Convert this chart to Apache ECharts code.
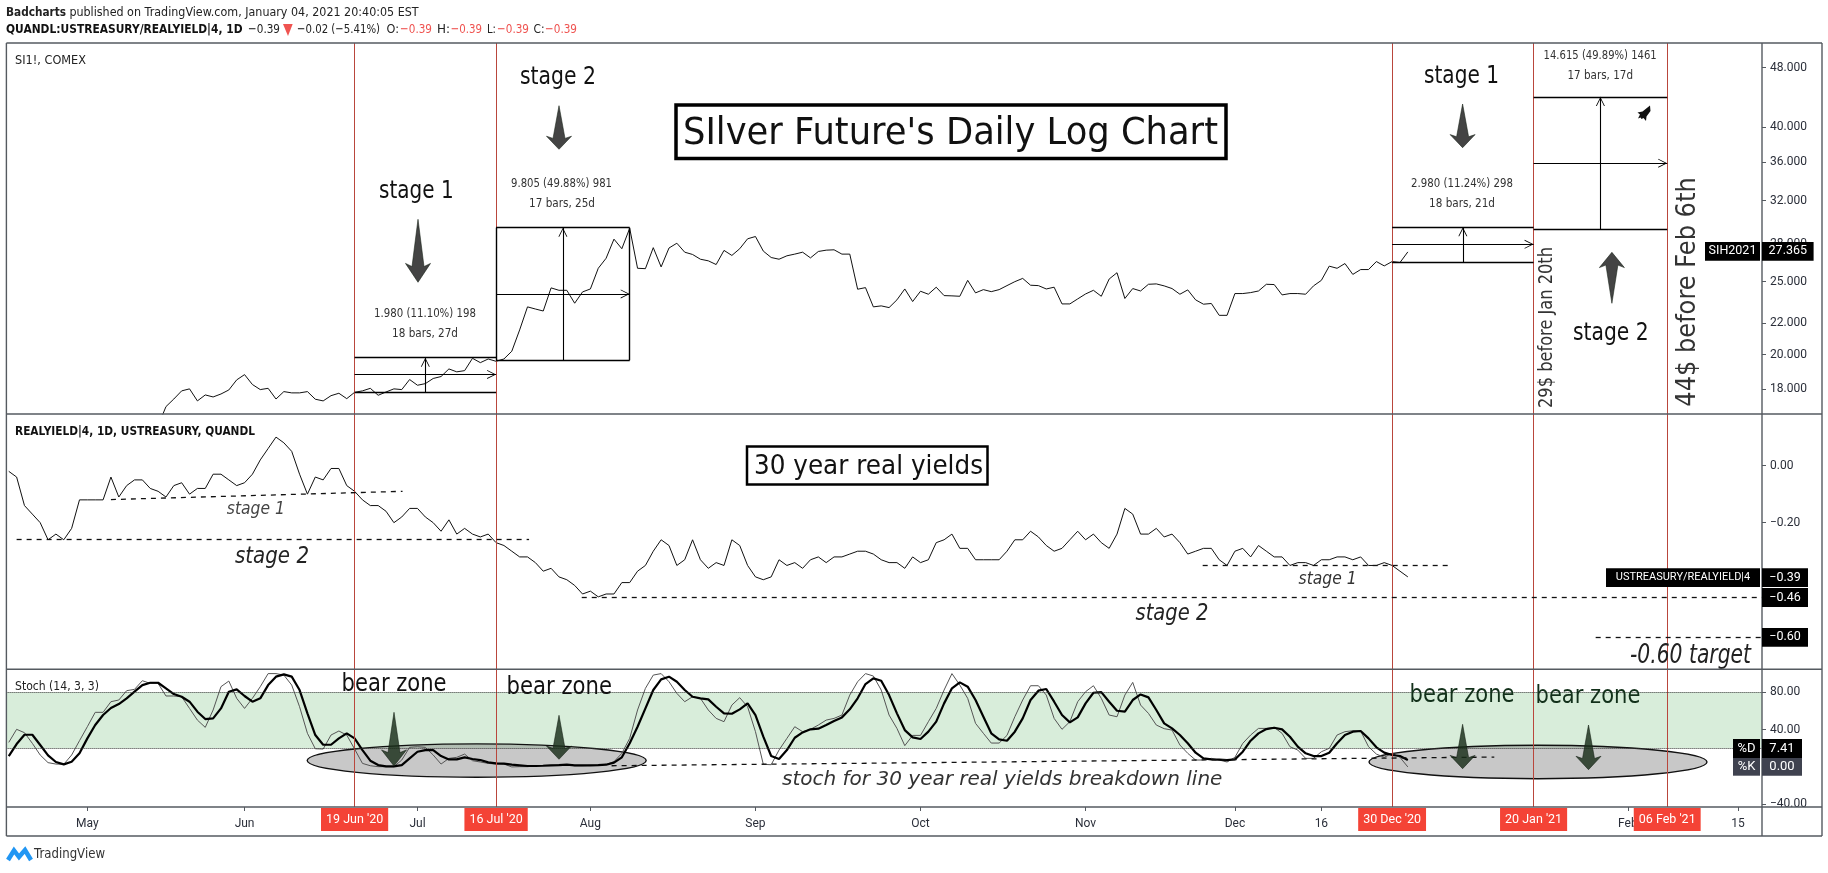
<!DOCTYPE html>
<html><head><meta charset="utf-8">
<style>html,body{margin:0;padding:0;background:#fff}#c{width:1828px;height:873px}</style>
<script src="https://cdn.jsdelivr.net/npm/echarts@6/dist/echarts.min.js"></script>
</head><body><div id="c"></div>
<script>
const priceStart = 19;
const prices = [16.1,17.07,17.47,17.91,18.02,17.37,17.69,17.58,17.74,17.96,18.52,18.82,18.26,17.98,18.05,17.47,17.87,17.80,17.80,17.87,17.46,17.37,17.65,17.78,17.49,17.83,17.91,18.05,17.67,17.85,18.02,17.98,18.54,18.22,18.31,18.60,18.71,19.15,18.98,19.05,19.78,19.52,19.74,19.60,19.74,20.21,21.57,23.14,22.99,22.85,24.52,24.34,24.34,23.40,24.22,24.44,26.03,26.84,28.45,27.63,29.41,26.03,26.00,27.72,26.14,27.69,28.10,27.34,27.15,26.76,26.63,26.33,27.49,27.07,27.63,28.48,28.68,27.43,26.90,26.76,27.04,27.18,27.34,26.87,27.40,27.51,27.54,27.18,27.18,24.42,24.54,23.14,23.21,23.09,23.64,24.44,23.52,24.27,24.05,24.57,23.95,23.93,23.90,25.09,24.15,24.39,24.24,24.39,24.69,24.99,25.24,24.72,24.69,24.44,24.57,23.35,23.35,23.71,24.07,24.34,23.90,25.19,25.68,23.74,24.47,24.29,24.79,24.82,24.67,24.47,24.05,24.37,23.64,23.33,23.38,22.55,22.55,24.10,24.10,24.17,24.29,24.79,24.77,24.00,24.10,24.10,24.05,24.67,25.09,26.20,26.03,26.41,25.55,25.93,25.93,26.57,26.22,26.57,26.49,27.365];
const yields = [-0.02,-0.04,-0.14,-0.17,-0.20,-0.26,-0.24,-0.26,-0.22,-0.12,-0.12,-0.12,-0.12,-0.04,-0.11,-0.07,-0.05,-0.05,-0.08,-0.09,-0.11,-0.07,-0.06,-0.10,-0.08,-0.08,-0.03,-0.03,-0.05,-0.07,-0.06,-0.03,0.02,0.06,0.10,0.08,0.05,-0.03,-0.10,-0.04,-0.05,-0.01,-0.01,-0.07,-0.09,-0.12,-0.14,-0.14,-0.16,-0.20,-0.18,-0.15,-0.15,-0.18,-0.20,-0.23,-0.19,-0.24,-0.22,-0.24,-0.25,-0.24,-0.27,-0.28,-0.30,-0.32,-0.32,-0.34,-0.37,-0.36,-0.39,-0.40,-0.42,-0.45,-0.44,-0.46,-0.45,-0.45,-0.41,-0.41,-0.37,-0.35,-0.30,-0.26,-0.28,-0.35,-0.33,-0.26,-0.33,-0.36,-0.34,-0.35,-0.26,-0.28,-0.35,-0.39,-0.40,-0.39,-0.33,-0.35,-0.34,-0.36,-0.33,-0.32,-0.34,-0.32,-0.32,-0.31,-0.30,-0.30,-0.31,-0.33,-0.34,-0.34,-0.36,-0.32,-0.34,-0.33,-0.27,-0.26,-0.24,-0.29,-0.29,-0.33,-0.33,-0.33,-0.33,-0.30,-0.26,-0.26,-0.23,-0.25,-0.28,-0.30,-0.29,-0.26,-0.23,-0.26,-0.24,-0.27,-0.29,-0.24,-0.15,-0.17,-0.24,-0.24,-0.22,-0.25,-0.24,-0.27,-0.31,-0.30,-0.29,-0.29,-0.33,-0.35,-0.30,-0.29,-0.32,-0.28,-0.30,-0.32,-0.32,-0.35,-0.34,-0.34,-0.35,-0.33,-0.33,-0.32,-0.32,-0.33,-0.32,-0.35,-0.35,-0.34,-0.35,-0.37,-0.39];
const stochD = [11.7,24.5,34.5,34.5,23.5,12.4,5.3,2.8,5.6,14.6,30.6,44.9,55.6,63.1,67.4,73.5,80.6,87.7,90.2,90.2,84.2,78.1,75.2,69.9,59.2,51.3,52.0,62.7,80.6,83.1,76.0,69.9,73.5,87.7,96.7,99.2,96.7,82.4,57.4,34.2,23.8,23.8,30.6,36.0,30.6,18.1,6.7,2.0,0.6,0.6,2.0,9.2,16.3,18.1,18.1,11.7,8.1,8.1,10.3,8.5,7.4,4.9,3.8,3.5,2.4,1.7,1.0,1.0,1.3,1.7,2.0,2.4,1.7,1.7,1.7,2.0,2.4,4.6,10.3,25.3,43.1,62.7,82.4,93.8,96.7,91.3,82.4,75.2,73.5,72.4,64.5,57.4,57.0,61.7,68.1,55.6,32.4,11.7,8.5,18.1,31.3,37.0,40.3,41.0,44.9,49.2,53.1,61.7,73.5,88.8,94.9,92.4,77.0,57.4,39.5,31.7,29.9,37.8,48.5,68.1,84.2,90.6,86.0,71.7,53.8,36.0,29.5,28.1,37.8,52.0,71.7,81.7,83.5,69.9,55.6,47.8,53.1,68.1,79.5,80.2,69.9,60.2,59.2,71.7,77.7,74.5,61.0,46.7,41.3,34.2,25.3,15.3,9.2,8.1,7.8,7.4,8.1,16.3,28.1,36.0,40.6,42.0,40.3,32.4,21.7,14.6,11.7,11.7,15.3,25.3,34.2,37.8,38.5,30.6,21.0,15.3,12.8,11.7,7.41];
const stochK = [26.3,40.3,36.7,25.3,12.8,4.6,3.1,2.8,12.8,28.1,43.1,58.5,58.5,69.9,71.7,81.7,83.1,92.4,89.5,89.5,76.0,76.0,75.2,62.7,50.2,42.4,61.0,86.0,92.0,73.5,62.7,73.5,86.0,100,100,98.4,87.7,64.5,36.0,19.5,19.2,34.2,38.5,34.2,19.2,3.8,1.3,0.3,0.3,0.3,7.4,21.0,21.7,21.0,12.8,3.1,9.2,10.3,13.8,6.7,5.3,3.8,3.1,3.1,0,0.3,0.3,1.0,1.7,1.7,2.4,2.4,1.3,1.3,1.7,2.0,2.8,5.6,14.6,30.6,61.0,84.2,98.4,100,91.3,78.8,69.9,75.2,73.5,61.0,52.0,48.5,66.3,74.2,64.5,37.8,2.8,2.4,18.1,30.6,43.1,37.8,40.3,44.9,50.2,52.0,55.6,77.0,91.3,100,97.4,82.4,55.6,41.3,22.8,33.8,33.8,48.5,62.7,82.4,100,87.7,73.5,46.7,36.0,25.6,25.6,33.8,53.8,71.7,87.0,87.0,77.0,52.0,40.3,48.5,69.9,80.6,87.0,73.5,55.6,53.8,77.0,90.6,66.3,57.4,44.9,41.0,39.5,23.5,14.6,7.4,7.4,9.2,7.4,5.3,10.3,25.3,34.2,41.3,41.3,42.4,36.0,21.7,18.1,9.2,9.2,16.3,19.9,34.2,37.8,38.8,38.5,21.7,13.8,10.3,14.6,10.3,0];
const monthTicks = {10:'May',30:'Jun',52:'Jul',74:'Aug',95:'Sep',116:'Oct',137:'Nov',156:'Dec',167:'16',206:'Feb',220:'15'};
const dateTags = {44:"19 Jun '20",62:"16 Jul '20",176:"30 Dec '20",194:"20 Jan '21",211:"06 Feb '21"};
const priceTicks = [48,40,36,32,28,25,22,20,18];
const yieldTicks = [0,-0.2,-0.4,-0.6];
const stochTicks = [80,40,0,-40];

const AX = '#555a60', TXT = '#2a2e39', RED = '#b9463c', F = 'DejaVu Sans';
const L = 6.4, W = 1755.6, xMin = -0.3, xMax = 223.06, RIGHT = 1828 - L - W;
const solid = {color:'#000', width:1.4, type:'solid'};
const dash  = {color:'#111', width:1.3, type:[5,5]};
const chev = 'path://M5,0 L5.01,0 Z M0,20 L5,10 L10,20 L9,20 L5,12 L1,20 Z';
const seg = (x1,y1,x2,y2,ls=solid) => [{coord:[x1,y1],lineStyle:ls,symbol:'none'},{coord:[x2,y2],symbol:'none'}];
const arr = (x1,y1,x2,y2) => [{coord:[x1,y1],lineStyle:{color:'#000',width:1.1,type:'solid'},symbol:'none'},{coord:[x2,y2],symbol:chev,symbolSize:[9,18]}];
const box = (a,b,lo,mid,hi,xm,sides) => {
  const o=[seg(a,lo,b,lo),seg(a,hi,b,hi),arr(a,mid,b,mid),arr(xm,lo,xm,hi)];
  if(sides){o.push(seg(a,lo,a,hi),seg(b,lo,b,hi));}
  return o;
};
const reds = Object.keys(dateTags).map(k=>({xAxis:+k,lineStyle:{color:RED,width:1,type:'solid'},symbol:'none'}));
const ml = d => ({silent:true,symbol:'none',animation:false,label:{show:false},emphasis:{disabled:true},data:d});

const priceLines = [...reds,
  ...box(44,62,17.84,18.83,19.82,53,false),
  ...box(62,79,19.66,24.07,29.465,70.5,true),
  ...box(176,194,26.51,28.0,29.49,185,false),
  ...box(194,211,29.29,35.87,43.905,202.5,false)];
const yieldLines = [...reds,
  seg(13,-0.119,50.1,-0.09,dash), seg(1,-0.257,66.2,-0.257,dash),
  seg(72.9,-0.46,xMax,-0.46,dash), seg(151.9,-0.35,183.5,-0.35,dash), seg(201.9,-0.60,xMax,-0.60,dash)];
const stochLines = [...reds,
  {yAxis:80,lineStyle:{color:'#333',width:1,type:'dotted'},symbol:'none'},
  {yAxis:20,lineStyle:{color:'#333',width:1,type:'dotted'},symbol:'none'},
  seg(76.7,1.3,189,10.6,dash)];

const mc = document.createElement('canvas').getContext('2d');
function T(text,x0,x1,yc,size,o={}){
  const font = `${o.style||'normal'} ${o.weight||'normal'} ${size}px "${o.family||F}"`;
  mc.font = font;
  const sx = (x1-x0)/mc.measureText(text).width;
  return {type:'text',x:x0,y:yc,z:o.z||30,scaleX:sx,rotation:o.rot||0,silent:true,
    style:{text,font,fill:o.fill||'#111',align:'left',verticalAlign:'middle'}};
}
function RT(text,xc,yBottom,yTop,size,fill){
  const t = T(text,0,yBottom-yTop,0,size,{fill,rot:Math.PI/2});
  t.x = xc; t.y = yBottom; return t;
}
function Tag(text,x0,x1,y0,y1,bg='#000',size=12.5){
  return [{type:'rect',z:40,silent:true,shape:{x:x0,y:y0,width:x1-x0,height:y1-y0},style:{fill:bg}},
    {type:'text',z:41,silent:true,x:(x0+x1)/2,y:(y0+y1)/2,style:{text,fill:'#fff',font:`${size}px Roboto`,align:'center',verticalAlign:'middle'}}];
}
function Arrow(cx,y0,y1,fill,up,hw=12.5,nw=6){
  const h=y1-y0, d=up?-1:1, a=up?y1:y0, b=up?y0:y1;
  const hb=b-d*h*0.30, nk=b-d*h*0.25;
  return {type:'polygon',z:25,silent:true,shape:{points:[[cx,a],[cx+nw,nk],[cx+hw,hb],[cx,b],[cx-hw,hb],[cx-nw,nk]]},style:{fill,stroke:'rgba(20,30,20,0.7)',lineWidth:0.8}};
}
const hline=(x1,y1,x2,y2,c=AX,w=1.4,z=35)=>({type:'line',z,silent:true,shape:{x1,y1,x2,y2},style:{stroke:c,lineWidth:w}});
const tbox=(x0,y0,x1,y1,lw)=>({type:'rect',z:28,silent:true,shape:{x:x0,y:y0,width:x1-x0,height:y1-y0},style:{fill:'#fff',stroke:'#000',lineWidth:lw}});
const ell=(cx,cy,rx,ry)=>({type:'ellipse',z:1.5,silent:true,shape:{cx,cy,rx,ry},style:{fill:'rgba(125,125,125,0.42)',stroke:'#111',lineWidth:1.4}});
const GA='rgba(25,45,25,0.82)', DA='#444';
const R='#ef5350';

const gfx = [
  // frame
  hline(6.4,43,1822,43),hline(6.4,414,1822,414),hline(6.4,669.3,1822,669.3),hline(6.4,807,1822,807),hline(6.4,836,1822,836),
  hline(6.4,43,6.4,836),hline(1762,43,1762,836),hline(1822,43,1822,836),
  // header
  T('Badcharts',6,66,12.6,13,{weight:'bold',fill:'#222'}),
  T('published on TradingView.com, January 04, 2021 20:40:05 EST',69.4,418.6,12.6,13,{fill:'#222'}),
  T('QUANDL:USTREASURY/REALYIELD|4, 1D',6,242.5,29.7,13,{weight:'bold',fill:'#111'}),
  T('−0.39',248,280,29.7,13,{fill:'#222'}),
  {type:'polygon',z:30,silent:true,shape:{points:[[283,24],[292.7,24],[288,36]]},style:{fill:R}},
  T('−0.02 (−5.41%)',297,380,29.7,13,{fill:'#222'}),
  T('O:',386.5,399,29.7,13,{fill:'#222'}),T('−0.39',400,432,29.7,13,{fill:R}),
  T('H:',437,450,29.7,13,{fill:'#222'}),T('−0.39',450.7,482,29.7,13,{fill:R}),
  T('L:',487,496,29.7,13,{fill:'#222'}),T('−0.39',497,529,29.7,13,{fill:R}),
  T('C:',533.5,544.5,29.7,13,{fill:'#222'}),T('−0.39',545,577,29.7,13,{fill:R}),
  // pane titles
  T('SI1!, COMEX',15,86,60.7,12,{fill:'#222'}),
  T('REALYIELD|4, 1D, USTREASURY, QUANDL',15,255,431.7,12,{fill:'#111',weight:'bold'}),
  T('Stoch (14, 3, 3)',15,99,686.7,12,{fill:'#222'}),
  // title boxes
  tbox(676,105,1226,158.5,3.5),
  T("SIlver Future's Daily Log Chart",683,1218,134,37),
  tbox(747,446.5,987.5,484.5,2.5),
  T('30 year real yields',754,983,466.5,27),
  // stage texts
  T('stage 2',520,596,78,24),T('stage 1',379,453.6,192,24),
  T('stage 1',1424,1499,77,24),T('stage 2',1573,1648.6,334,24),
  T('9.805 (49.88%) 981',511,612,183.7,12,{fill:'#333'}),T('17 bars, 25d',529,595,203.7,12,{fill:'#333'}),
  T('1.980 (11.10%) 198',374,476,313.7,12,{fill:'#333'}),T('18 bars, 27d',392,458,333.7,12,{fill:'#333'}),
  T('2.980 (11.24%) 298',1411,1513,184,12,{fill:'#333'}),T('18 bars, 21d',1429,1495,204,12,{fill:'#333'}),
  T('14.615 (49.89%) 1461',1543.6,1656.7,56,12,{fill:'#333'}),T('17 bars, 17d',1567.5,1633,76,12,{fill:'#333'}),
  RT('29$ before Jan 20th',1547,408,247,20,'#333'),
  RT('44$ before Feb 6th',1687.5,406.7,177.3,27,'#333'),
  Arrow(418,219.3,282.3,DA,false),Arrow(559,105.7,149.3,DA,false),Arrow(1462.6,104,147.7,DA,false),Arrow(1611.9,252.3,303.3,DA,true),
  {type:'polygon',z:30,silent:true,shape:{points:[[1650,105.5],[1650.5,111],[1646.5,116.5],[1646,121],[1643.5,118],[1641.5,119],[1640.5,117.5],[1638,118.5],[1640,114.5],[1637.5,112.5],[1642.5,111.5]]},style:{fill:'#111'}},
  // yield texts
  T('stage 1',226.8,284.8,509.7,18,{style:'italic',fill:'#444'}),
  T('stage 2',235,309,556.7,23,{style:'italic',fill:'#222'}),
  T('stage 1',1298.6,1356.6,579,18,{style:'italic',fill:'#333'}),
  T('stage 2',1135.5,1208.4,614.3,23,{style:'italic',fill:'#222'}),
  T('-0.60 target',1630,1751,656.3,26,{style:'italic',fill:'#222'}),
  // stoch annotations
  ell(476.7,760.6,169.5,16.7),ell(1538,762,169,16.7),
  Arrow(394,712.3,766,GA,false),Arrow(559,715.3,759.3,GA,false),Arrow(1462.6,724.3,768.7,GA,false),Arrow(1588.5,725,769.7,GA,false),
  T('bear zone',341.6,446.6,684.5,24),T('bear zone',506.6,612,687.5,24),
  T('bear zone',1409.6,1514.5,696,24,{fill:'#12301a'}),T('bear zone',1535.5,1640.4,697,24,{fill:'#12301a'}),
  T('stoch for 30 year real yields breakdown line',782,1222.4,780,20,{style:'italic',fill:'#333'}),
  // price tags
  ...Tag('SIH2021',1705,1760,242,260.7),...Tag('27.365',1762,1813.6,242,260.7),
  ...Tag('USTREASURY/REALYIELD|4',1606,1760,568.3,587,'#000',11),...Tag('−0.39',1762,1808,568.3,587),
  ...Tag('−0.46',1762,1808,588,607),...Tag('−0.60',1762,1808,628,646.7),
  ...Tag('%D',1733,1760,739,758,'#000',13),...Tag('7.41',1762,1802,739,758,'#000',13),
  ...Tag('%K',1733,1760,758,775.7,'#3f424f',13),...Tag('0.00',1762,1802,758,775.7,'#3f424f',13),
  // logo
  {type:'polyline',z:30,silent:true,shape:{points:[[8,860],[14,850.5],[19,857],[25,850],[31,860]]},style:{stroke:'#2196f3',lineWidth:4.5,fill:'none'}},
  T('TradingView',34,105,854,14,{fill:'#333'})
];

const xAxisBase = (idx,show) => ({type:'value',gridIndex:idx,min:xMin,max:xMax,splitLine:{show:false},axisLine:{show:false},axisTick:{show:false},axisLabel:{show:false},show});
const yAxisCommon = (fmt,vals) => ({position:'right',splitLine:{show:false},axisLine:{show:false,onZero:false},
  axisTick:{show:true,length:4,lineStyle:{color:AX},customValues:vals},
  axisLabel:{color:TXT,fontFamily:'Roboto',fontSize:12,margin:8,formatter:fmt,customValues:vals}});
const fmtMinus = v => (+v).toFixed(2).replace('-','−');

const tickVals = Object.keys(monthTicks).map(Number);
const allVals = [...new Set([...tickVals,...Object.keys(dateTags).map(Number)])].sort((a,b)=>a-b);

const option = {
  animation:false,backgroundColor:'#fff',
  grid:[{left:L,right:RIGHT,top:43,height:371},{left:L,right:RIGHT,top:414,height:255.3},{left:L,right:RIGHT,top:669.3,height:137.7}],
  xAxis:[xAxisBase(0,true),xAxisBase(1,true),{
    type:'value',gridIndex:2,min:xMin,max:xMax,splitLine:{show:false},axisLine:{show:false,onZero:false},
    axisTick:{show:true,length:4,lineStyle:{color:AX},customValues:tickVals},
    axisLabel:{show:true,margin:1,hideOverlap:false,customValues:allVals,fontFamily:'Roboto',fontSize:12,color:TXT,
      formatter:v=>dateTags[v]?`{r|${dateTags[v]}}`:`{m|${monthTicks[v]||''}}`,
      rich:{r:{backgroundColor:'#f44336',color:'#fff',fontFamily:'Roboto',fontSize:12.5,height:23,lineHeight:23,padding:[0,5]},
            m:{color:TXT,fontFamily:'Roboto',fontSize:12,height:23,lineHeight:31}}}
  }],
  yAxis:[
    {type:'log',logBase:10,gridIndex:0,min:16.69,max:51.75,...yAxisCommon(v=>(+v).toFixed(3),priceTicks)},
    {type:'value',gridIndex:1,min:-0.714,max:0.181,...yAxisCommon(fmtMinus,yieldTicks)},
    {type:'value',gridIndex:2,min:-42.9,max:104.6,...yAxisCommon(fmtMinus,stochTicks)}
  ],
  graphic:{elements:gfx},
  series:[
    {name:'SI1!',type:'line',xAxisIndex:0,yAxisIndex:0,showSymbol:false,symbol:'none',z:3,
      data:prices.map((v,i)=>[i+priceStart,v]),lineStyle:{color:'#111',width:1},markLine:ml(priceLines)},
    {name:'REALYIELD',type:'line',xAxisIndex:1,yAxisIndex:1,showSymbol:false,symbol:'none',z:3,
      data:yields.map((v,i)=>[i,v]),lineStyle:{color:'#111',width:1},markLine:ml(yieldLines)},
    {name:'%K',type:'line',xAxisIndex:2,yAxisIndex:2,showSymbol:false,symbol:'none',z:3,
      data:stochK.map((v,i)=>[i,v]),lineStyle:{color:'#555',width:1},markLine:ml(stochLines),
      markArea:{silent:true,animation:false,itemStyle:{color:'#d8edda'},data:[[{yAxis:80},{yAxis:20}]]}},
    {name:'%D',type:'line',xAxisIndex:2,yAxisIndex:2,showSymbol:false,symbol:'none',z:4,
      data:stochD.map((v,i)=>[i,v]),lineStyle:{color:'#000',width:2.2}}
  ]
};
const chart = echarts.init(document.getElementById('c'),null,{renderer:'canvas',devicePixelRatio:1});
chart.setOption(option);
</script></body></html>
